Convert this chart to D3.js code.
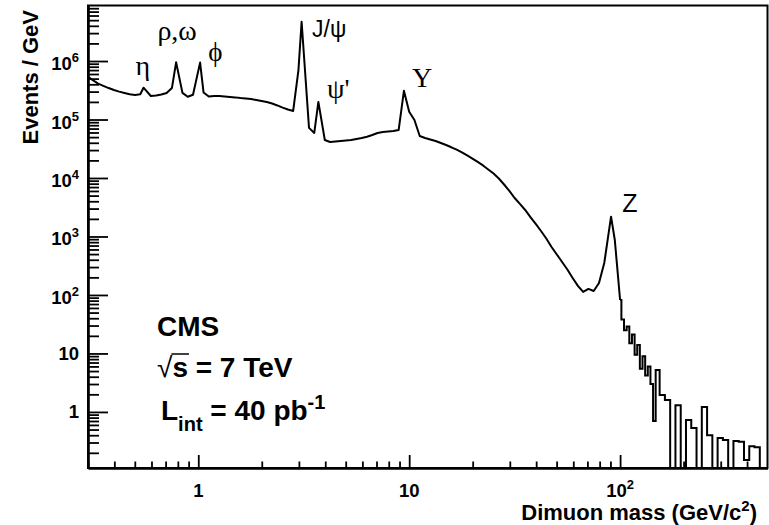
<!DOCTYPE html>
<html>
<head>
<meta charset="utf-8">
<script src="https://cdn.jsdelivr.net/npm/d3@7"></script>
<style>
body { margin: 0; background: #fff; }
svg { display: block; }
text { font-family: "Liberation Sans", Arial, Helvetica, sans-serif; fill: #000; }
.serif { font-family: "Liberation Serif", "DejaVu Serif", serif; }
</style>
</head>
<body>
<div id="chart"></div>
<script>
// Dimuon mass bin centres (GeV)
var massBins = [
  0.2985, 0.3162, 0.3350, 0.3548, 0.3758, 0.3981, 0.4217, 0.4467, 0.4732, 0.5012,
  0.5309, 0.55, 0.5957, 0.6310, 0.6683, 0.7079, 0.7499, 0.785, 0.8414, 0.8913,
  0.9441, 1.02, 1.059, 1.122, 1.189, 1.259, 1.334, 1.413, 1.496, 1.585,
  1.679, 1.778, 1.884, 1.995, 2.113, 2.239, 2.371, 2.512, 2.661, 2.818,
  2.985, 3.09, 3.350, 3.548, 3.71, 3.981, 4.217, 4.467, 4.732, 5.012,
  5.309, 5.623, 5.957, 6.310, 6.683, 7.079, 7.499, 7.943, 8.414, 8.913,
  9.441, 10.00, 10.59, 11.22, 11.89, 12.59, 13.34, 14.13, 14.96, 15.85,
  16.79, 17.78, 18.84, 19.95, 21.13, 22.39, 23.71, 25.12, 26.61, 28.18,
  29.85, 31.62, 33.50, 35.48, 37.58, 39.81, 42.17, 44.67, 47.32, 50.12,
  53.09, 56.23, 59.57, 63.10, 66.83, 70.79, 74.99, 79.43, 84.14, 90.6,
  94.41, 100.0, 102.9, 105.9, 109.0, 112.2, 115.5, 118.9, 122.3, 125.9,
  129.6, 133.4, 137.3, 141.3, 145.4, 149.6, 158.5,
  167.9, 177.8, 188.4, 199.5, 211.3, 223.9, 237.1, 251.2, 266.1, 281.8,
  298.5, 316.2, 335.0, 354.8, 375.8, 398.1, 421.7, 446.7, 473.2, 501.2
];

// Events / GeV in each bin (0 = empty bin)
var eventsPerGeV = [
  5.5e5, 4.7e5, 4.1e5, 3.75e5, 3.45e5, 3.2e5, 3.0e5, 2.85e5, 2.7e5, 2.62e5,
  2.7e5, 3.5e5, 2.52e5, 2.57e5, 2.68e5, 2.84e5, 3.45e5, 9.5e5, 2.85e5, 2.45e5,
  2.65e5, 9.4e5, 2.9e5, 2.47e5, 2.52e5, 2.52e5, 2.47e5, 2.43e5, 2.39e5, 2.33e5,
  2.29e5, 2.24e5, 2.15e5, 2.07e5, 1.99e5, 1.88e5, 1.74e5, 1.6e5, 1.48e5, 1.4e5,
  7.0e5, 4.7e6, 7.2e4, 5.9e4, 2.0e5, 4.46e4, 4.12e4, 4.2e4, 4.29e4, 4.37e4,
  4.46e4, 4.64e4, 4.83e4, 5.08e4, 5.43e4, 5.88e4, 6.1e4, 6.24e4, 6.36e4, 6.6e4,
  3.1e5, 1.36e5, 9.8e4, 5.22e4, 4.83e4, 4.55e4, 4.29e4, 3.96e4, 3.66e4, 3.35e4,
  3.05e4, 2.75e4, 2.43e4, 2.15e4, 1.88e4, 1.64e4, 1.4e4, 1.19e4, 9.8e3, 7.74e3,
  6.0e3, 4.55e3, 3.6e3, 2.84e3, 2.15e3, 1.64e3, 1.24e3, 925, 662, 492,
  366, 273, 195, 143, 113, 127, 117, 160, 352, 2180,
  870, 82, 38, 25, 29, 15, 21, 9.5, 14, 5.5,
  9, 4.2, 6, 3.0, 0.7, 5.2,
  1.95, 1.6, 0, 1.3, 0, 0.73, 0.53, 0, 1.22, 0.40, 0,
  0.36, 0.33, 0, 0.32, 0.31, 0.15, 0.26, 0.25, 0, 0
];

// axis ranges and tick labels
var massRange = [0.3, 500];
var eventsRange = [0.11, 8.9e6];
var xMajorTicks = [1, 10, 100];
var xTickLabels = [["1", ""], ["10", ""], ["10", "2"]];
var yMajorTicks = [1, 10, 100, 1e3, 1e4, 1e5, 1e6];
var yTickLabels = [["1", ""], ["10", ""], ["10", "2"], ["10", "3"], ["10", "4"], ["10", "5"], ["10", "6"]];

// resonance labels: [text, mass, events, font, size]  (left edge / baseline)
var peakLabels = [
  ["\u03b7", 0.504, 5.8e5, "serif", 28],
  ["\u03c1,\u03c9", 0.64, 2.3e6, "serif", 28],
  ["\u03d5", 1.116, 1.0e6, "serif", 27],
  ["J/\u03c8", 3.465, 2.57e6, "sans", 23],
  ["\u03c8'", 4.08, 2.33e5, "serif", 28],
  ["\u03a5", 10.3, 3.6e5, "serif", 28],
  ["Z", 102.5, 2.62e3, "sans", 25]
];

var width = 769, height = 525;
var plotLeft = 88, plotRight = 767.5, plotTop = 5.5, plotBottom = 468;

var svg = d3.select("#chart").append("svg")
    .attr("width", width).attr("height", height);

var x = d3.scaleLog().domain(massRange).range([plotLeft, plotRight]);
var y = d3.scaleLog().domain(eventsRange).range([plotBottom, plotTop]);

// minor ticks: 2..9 within each decade
function minorTicks(lo, hi) {
    var t = [];
    for (var e = Math.floor(Math.log10(lo)); e <= Math.ceil(Math.log10(hi)); e++) {
        for (var m = 2; m <= 9; m++) {
            var v = m * Math.pow(10, e);
            if (v > lo && v < hi) t.push(v);
        }
    }
    return t;
}

svg.append("clipPath").attr("id", "plotclip")
  .append("rect").attr("x", plotLeft).attr("y", plotTop)
  .attr("width", plotRight - plotLeft).attr("height", plotBottom - plotTop);

// the histogram: a line up to 100 GeV, then steps in the sparse tail
var pts = massBins.map(function(m, i) { return {m: m, v: eventsPerGeV[i]}; });
function yv(d) { return d.v > 0 ? y(d.v) : plotBottom + 20; }

var smooth = pts.filter(function(d) { return d.m <= 100; });
var tail = pts.filter(function(d) { return d.m >= 100; });

var g = svg.append("g").attr("clip-path", "url(#plotclip)");
g.append("path")
    .attr("d", d3.line().x(function(d) { return x(d.m); }).y(yv)(smooth))
    .attr("fill", "none").attr("stroke", "#000").attr("stroke-width", 2)
    .attr("stroke-linejoin", "round");
g.append("path")
    .attr("d", d3.line().curve(d3.curveStep).x(function(d) { return x(d.m); }).y(yv)(tail))
    .attr("fill", "none").attr("stroke", "#000").attr("stroke-width", 2);

// frame
svg.append("rect")
    .attr("x", plotLeft).attr("y", plotTop)
    .attr("width", plotRight - plotLeft).attr("height", plotBottom - plotTop)
    .attr("fill", "none").attr("stroke", "#000").attr("stroke-width", 2);

// x axis ticks (pointing up, into the frame)
svg.append("g").attr("transform", "translate(0," + plotBottom + ")")
    .call(d3.axisBottom(x).tickValues(minorTicks(massRange[0], massRange[1]))
        .tickSizeInner(-6.5).tickSizeOuter(0).tickFormat(""))
    .call(function(a) { a.selectAll("line").attr("stroke-width", 1.8); a.select(".domain").attr("stroke-width", 2.6); });
svg.append("g").attr("transform", "translate(0," + plotBottom + ")")
    .call(d3.axisBottom(x).tickValues(xMajorTicks)
        .tickSizeInner(-13).tickSizeOuter(0).tickFormat(""))
    .call(function(a) { a.selectAll("line").attr("stroke-width", 1.8); a.select(".domain").remove(); });

// y axis ticks (pointing right, into the frame)
svg.append("g").attr("transform", "translate(" + plotLeft + ",0)")
    .call(d3.axisLeft(y).tickValues(minorTicks(eventsRange[0], eventsRange[1]))
        .tickSizeInner(-11).tickSizeOuter(0).tickFormat(""))
    .call(function(a) { a.selectAll("line").attr("stroke-width", 1.8); a.select(".domain").attr("stroke-width", 2.6); });
svg.append("g").attr("transform", "translate(" + plotLeft + ",0)")
    .call(d3.axisLeft(y).tickValues(yMajorTicks)
        .tickSizeInner(-20).tickSizeOuter(0).tickFormat(""))
    .call(function(a) { a.selectAll("line").attr("stroke-width", 1.8); a.select(".domain").remove(); });

// tick labels with superscripts
function powerLabel(sel, lab) {
    sel.append("tspan").text(lab[0]);
    if (lab[1]) sel.append("tspan").attr("font-size", 13).attr("dy", -8).text(lab[1]);
}
xMajorTicks.forEach(function(v, i) {
    var t = svg.append("text")
        .attr("x", x(v)).attr("y", 497)
        .attr("text-anchor", "middle")
        .attr("font-size", 18.5).attr("font-weight", "bold");
    powerLabel(t, xTickLabels[i]);
});
yMajorTicks.forEach(function(v, i) {
    var lab = yTickLabels[i];
    var t = svg.append("text")
        .attr("x", 79).attr("y", y(v) + (lab[1] ? 9 : 6.5))
        .attr("text-anchor", "end")
        .attr("font-size", 18.5).attr("font-weight", "bold");
    powerLabel(t, lab);
});

// axis titles
var xt = svg.append("text")
    .attr("x", 757).attr("y", 520)
    .attr("text-anchor", "end")
    .attr("font-size", 22).attr("font-weight", "bold");
xt.append("tspan").text("Dimuon mass (GeV/c");
xt.append("tspan").attr("font-size", 15).attr("dy", -9).text("2");
xt.append("tspan").attr("dy", 9).text(")");

svg.append("text")
    .attr("transform", "translate(38,10) rotate(-90)")
    .attr("text-anchor", "end")
    .attr("font-size", 22).attr("font-weight", "bold")
    .text("Events / GeV");

// resonance labels
peakLabels.forEach(function(p) {
    svg.append("text")
        .attr("class", p[3] == "serif" ? "serif" : null)
        .attr("x", x(p[1])).attr("y", y(p[2]))
        .attr("font-size", p[4])
        .text(p[0]);
});

// CMS info block
svg.append("text").attr("x", 157).attr("y", 336)
    .attr("font-size", 28).attr("font-weight", "bold").text("CMS");

var rt = svg.append("text").attr("x", 157).attr("y", 377)
    .attr("font-size", 28).attr("font-weight", "bold");
rt.append("tspan").attr("font-weight", "normal").text("\u221a");
rt.append("tspan").text("s");
rt.append("tspan").text(" = 7 TeV");
var s0 = rt.node().getStartPositionOfChar(1).x;
var s1 = rt.node().getEndPositionOfChar(1).x;
svg.append("line").attr("x1", s0 - 1).attr("x2", s1 + 1)
    .attr("y1", 354).attr("y2", 354)
    .attr("stroke", "#000").attr("stroke-width", 1.5);

var lt = svg.append("text").attr("x", 161).attr("y", 420)
    .attr("font-size", 28).attr("font-weight", "bold");
lt.append("tspan").text("L");
lt.append("tspan").attr("font-size", 20).attr("dy", 11).text("int");
lt.append("tspan").attr("dy", -11).text(" = 40 pb");
lt.append("tspan").attr("font-size", 20).attr("dy", -11).text("-1");
</script>
</body>
</html>
